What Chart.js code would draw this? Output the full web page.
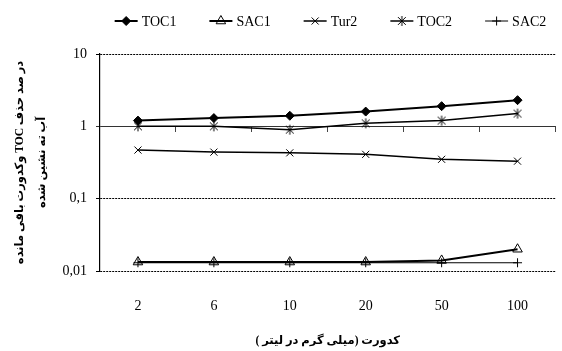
<!DOCTYPE html>
<html><head><meta charset="utf-8">
<script src="https://cdn.jsdelivr.net/npm/chart.js@4.4.1/dist/chart.umd.min.js"></script>
<style>html,body{margin:0;padding:0;background:#fff}#wrap{width:562px;height:351px}</style>
</head><body><div id="wrap"><canvas id="c" width="562" height="351"></canvas></div>
<script>
const categories = ['2', '6', '10', '20', '50', '100'];
const toc1 = [1.2, 1.3, 1.4, 1.6, 1.9, 2.3];
const sac1 = [0.0133, 0.0133, 0.0133, 0.0133, 0.014, 0.02];
const tur2 = [0.47, 0.44, 0.43, 0.41, 0.35, 0.33];
const toc2 = [1.0, 1.0, 0.9, 1.1, 1.2, 1.5];
const sac2 = [0.013, 0.013, 0.013, 0.013, 0.013, 0.013];
const seriesNames = ['TOC1', 'SAC1', 'Tur2', 'TOC2', 'SAC2'];
const yTickValues = [0.01, 0.1, 1, 10];
const yTickLabels = ['0,01', '0,1', '1', '10'];
const xTitle = 'کدورت (میلی گرم در لیتر )';
const yTitle = ['در صد حذف TOC وکدورت باقی مانده', 'آب ته نشین شده'];

const rtl = s => '\u202B' + s + '\u202C';
const SERIF = "'Liberation Serif', 'DejaVu Sans', serif";

function makeStar(r) {
  const s = Math.ceil(2 * r + 2);
  const c = document.createElement('canvas');
  c.width = s; c.height = s;
  const g = c.getContext('2d');
  const m = s / 2, d = r * 0.78;
  g.strokeStyle = '#000'; g.lineWidth = 1;
  g.beginPath();
  g.moveTo(m - d, m - d); g.lineTo(m + d, m + d);
  g.moveTo(m + d, m - d); g.lineTo(m - d, m + d);
  g.moveTo(m, m - r); g.lineTo(m, m + r);
  g.stroke();
  return c;
}
const starImg = makeStar(5);

Chart.defaults.font.family = SERIF;
Chart.defaults.font.size = 14;
Chart.defaults.color = '#000';

const base = {borderColor: '#000', pointBorderColor: '#000', pointBorderWidth: 1, tension: 0, fill: false, pointHoverRadius: 5};
const datasets = [
  Object.assign({}, base, {label: seriesNames[0], data: toc1, borderWidth: 2, pointStyle: 'rectRot', pointRadius: 4.5, pointBackgroundColor: '#000'}),
  Object.assign({}, base, {label: seriesNames[1], data: sac1, borderWidth: 2, pointStyle: 'triangle', pointRadius: 5.5, pointBackgroundColor: 'rgba(0,0,0,0)'}),
  Object.assign({}, base, {label: seriesNames[2], data: tur2, borderWidth: 1.5, pointStyle: 'crossRot', pointRadius: 5, pointBackgroundColor: 'rgba(0,0,0,0)'}),
  Object.assign({}, base, {label: seriesNames[3], data: toc2, borderWidth: 1.5, pointStyle: starImg, pointRadius: 5, pointBackgroundColor: 'rgba(0,0,0,0)'}),
  Object.assign({}, base, {label: seriesNames[4], data: sac2, borderWidth: 1, pointStyle: 'cross', pointRadius: 4.5, pointBackgroundColor: 'rgba(0,0,0,0)'})
];

const legendPlugin = {
  id: 'customLegend',
  afterDraw(chart) {
    const ctx = chart.ctx;
    ctx.save();
    ctx.font = "14px " + SERIF;
    ctx.textBaseline = 'middle';
    ctx.textAlign = 'left';
    const lineLen = 23, gapT = 4, gapI = 33;
    const items = chart.data.datasets.map(ds => ({ds, w: lineLen + gapT + ctx.measureText(ds.label).width}));
    const total = items.reduce((a, b) => a + b.w, 0) + gapI * (items.length - 1);
    let x = 330.5 - total / 2;
    const y = 21;
    items.forEach(it => {
      const ds = it.ds;
      ctx.strokeStyle = '#000';
      ctx.lineWidth = ds.borderWidth;
      ctx.beginPath(); ctx.moveTo(x, y); ctx.lineTo(x + lineLen, y); ctx.stroke();
      ctx.fillStyle = ds.pointBackgroundColor;
      ctx.lineWidth = ds.pointBorderWidth;
      Chart.helpers.drawPoint(ctx, {pointStyle: ds.pointStyle, radius: ds.pointRadius, rotation: 0, borderWidth: ds.pointBorderWidth}, x + lineLen / 2, y);
      ctx.fillStyle = '#000';
      ctx.fillText(ds.label, x + lineLen + gapT, y + 1);
      x += it.w + gapI;
    });
    ctx.restore();
  }
};

new Chart(document.getElementById('c'), {
  type: 'line',
  data: {labels: categories, datasets},
  plugins: [legendPlugin],
  options: {
    responsive: false,
    animation: false,
    layout: {padding: {top: 54, left: 0, right: 0, bottom: 0}},
    plugins: {legend: {display: false}, tooltip: {enabled: false}},
    scales: {
      x: {
        type: 'category', position: 'bottom', offset: true,
        grid: {display: false, drawTicks: false},
        border: {display: false},
        ticks: {padding: 27, font: {size: 14}},
        title: {display: true, text: rtl(xTitle), font: {size: 11.5, weight: 'bold'}, padding: {top: 0, bottom: 3}},
        afterFit: s => { s.height = 80; }
      },
      x2: {
        type: 'category', position: {y: 1}, offset: true,
        grid: {display: true, offset: true, drawOnChartArea: false, drawTicks: true, tickLength: 6, color: '#444', lineWidth: 1},
        border: {display: false},
        ticks: {display: false}
      },
      y: {
        type: 'logarithmic', position: 'left', min: 0.01, max: 10,
        afterBuildTicks: s => { s.ticks = yTickValues.map(v => ({value: v})); },
        ticks: {padding: 9, font: {size: 14}, callback: v => { const i = yTickValues.indexOf(v); return i >= 0 ? yTickLabels[i] : ''; }},
        grid: {color: ctx => (ctx.tick && ctx.tick.value === 1) ? '#333' : '#000', lineWidth: 1, drawTicks: true, tickLength: 4},
        border: {display: true, color: '#000', width: 1.2, dash: ctx => (ctx.type === 'tick' && ctx.tick && ctx.tick.value !== 1) ? [2, 1] : []},
        title: {display: true, text: yTitle.map(rtl), font: {size: 11.5, weight: 'bold', lineHeight: 1.9}, padding: {top: 9, bottom: 0}},
        afterFit: s => { s.width = 100; }
      }
    }
  }
});
</script>
</body></html>
